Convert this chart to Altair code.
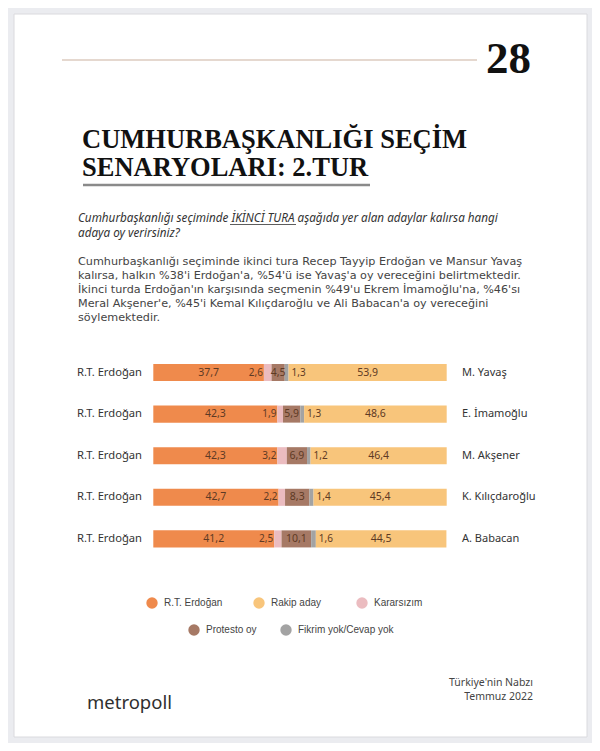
import altair as alt
import pandas as pd

# ---------------- data ----------------
rivals = ["M. Yavaş", "E. İmamoğlu", "M. Akşener", "K. Kılıçdaroğlu", "A. Babacan"]
categories = ["R.T. Erdoğan", "Kararsızım", "Protesto oy", "Fikrim yok/Cevap yok", "Rakip aday"]
erdogan = [37.7, 42.3, 42.3, 42.7, 41.2]
kararsiz = [2.6, 1.9, 3.2, 2.2, 2.5]
protesto = [4.5, 5.9, 6.9, 8.3, 10.1]
fikrim = [1.3, 1.3, 1.2, 1.4, 1.6]
rakip = [53.9, 48.6, 46.4, 45.4, 44.5]
colors = ["#ef8a4c", "#ebbcc0", "#a67965", "#a3a3a3", "#f8c57b"]
legend_order = ["R.T. Erdoğan", "Rakip aday", "Kararsızım", "Protesto oy", "Fikrim yok/Cevap yok"]
legend_labels = ["R.T. Erdoğan", "Rakip aday", "Kararsızım", "Protesto oy", "Fikrim yok/Cevap yok"]

rows = []
for i, r in enumerate(rivals):
    vals = [erdogan[i], kararsiz[i], protesto[i], fikrim[i], rakip[i]]
    s = 0.0
    for c, v in zip(categories, vals):
        rows.append(dict(rival=r, cat=c, value=v, start=s, end=s + v, mid=s + v / 2,
                         label=f"{v:.1f}".replace(".", ",")))
        s += v
df = pd.DataFrame(rows)
one = pd.DataFrame({"_": [0]})

SANS = "Noto Sans"
SERIF = "Liberation Serif"

xscale = alt.Scale(domain=[0, 100], range=[145.3, 438.7])
yscale = alt.Scale(domain=rivals, range=[343.7, 551.7], paddingInner=0.59, paddingOuter=0.295)
cscale = alt.Scale(domain=categories, range=colors)
Y = alt.Y("rival:N", scale=yscale, axis=None, sort=rivals)


def txt(s, x, y, size, font=SANS, align="left", color="#333333", **kw):
    return alt.Chart(one).mark_text(align=align, baseline="middle", fontSize=size, font=font,
                                    color=color, **kw).encode(
        x=alt.value(x), y=alt.value(y), text=alt.value(s))


def rule(x1, x2, y, color, w):
    return alt.Chart(one).mark_rule(color=color, strokeWidth=w).encode(
        x=alt.value(x1), x2=alt.value(x2), y=alt.value(y))


page = alt.Chart(one).mark_rect(color="white", stroke="#dadade", strokeWidth=1).encode(
    x=alt.value(6), x2=alt.value(579), y=alt.value(6), y2=alt.value(729))

layers = [page]
layers.append(rule(54, 469, 52, "#dccbbf", 1.5))
layers.append(alt.Chart(one).mark_text(align="left", baseline="alphabetic", fontSize=45, font=SERIF,
                                       fontWeight="bold", color="#111111").encode(
    x=alt.value(478), y=alt.value(65), text=alt.value("28")))
for s, y in [("CUMHURBAŞKANLIĞI SEÇİM", 140), ("SENARYOLARI: 2.TUR", 168)]:
    layers.append(alt.Chart(one).mark_text(align="left", baseline="alphabetic", fontSize=26.5, font=SERIF,
                                           fontWeight="bold", color="#111111").encode(
        x=alt.value(74), y=alt.value(y), text=alt.value(s)))
layers.append(rule(75, 362, 177, "#8a8a8a", 2.5))

# question
layers.append(alt.Chart(one).mark_text(align="left", baseline="middle", fontSize=11.7, font=SANS,
                                       fontStyle="italic", color="#333333", lineHeight=14.5).encode(
    x=alt.value(70), y=alt.value(210),
    text=alt.value(["Cumhurbaşkanlığı seçiminde İKİNCİ TURA aşağıda yer alan adaylar kalırsa hangi",
                    "adaya oy verirsiniz?"])))
layers.append(rule(222, 288, 216.5, "#333333", 0.8))

# paragraph
para = ["Cumhurbaşkanlığı seçiminde ikinci tura Recep Tayyip Erdoğan ve Mansur Yavaş",
        "kalırsa, halkın %38'i Erdoğan'a, %54'ü ise Yavaş'a oy vereceğini belirtmektedir.",
        "İkinci turda Erdoğan'ın karşısında seçmenin %49'u Ekrem İmamoğlu'na, %46'sı",
        "Meral Akşener'e, %45'i Kemal Kılıçdaroğlu ve Ali Babacan'a oy vereceğini",
        "söylemektedir."]
layers.append(alt.Chart(one).mark_text(align="left", baseline="middle", fontSize=11.2, font="DejaVu Sans",
                                       color="#444444", lineHeight=14).encode(
    x=alt.value(70), y=alt.value(254), text=alt.value(para)))

# bars
bars = alt.Chart(df).mark_bar().encode(
    x=alt.X("start:Q", scale=xscale, axis=None),
    x2="end:Q",
    y=Y,
    color=alt.Color("cat:N", scale=cscale, legend=None),
)
layers.append(bars)

lab_color = "#5e3a24"
center = alt.Chart(df).transform_filter(
    alt.FieldOneOfPredicate(field="cat", oneOf=["R.T. Erdoğan", "Protesto oy", "Rakip aday"])
).mark_text(fontSize=10.5, font=SANS, color=lab_color, baseline="middle").encode(
    x=alt.X("mid:Q", scale=xscale, axis=None), y=Y, text="label:N")
pink = alt.Chart(df).transform_filter(alt.datum.cat == "Kararsızım").mark_text(
    fontSize=10, font=SANS, color=lab_color, baseline="middle", align="right", dx=-1).encode(
    x=alt.X("start:Q", scale=xscale, axis=None), y=Y, text="label:N")
grey = alt.Chart(df).transform_filter(alt.datum.cat == "Fikrim yok/Cevap yok").mark_text(
    fontSize=10, font=SANS, color=lab_color, baseline="middle", align="left", dx=3).encode(
    x=alt.X("end:Q", scale=xscale, axis=None), y=Y, text="label:N")
layers += [center, pink, grey]

rowdf = df[df["cat"] == "R.T. Erdoğan"]
left_lab = alt.Chart(rowdf).mark_text(align="left", baseline="middle", fontSize=11.2, font=SANS,
                                      color="#333333").encode(
    x=alt.value(69), y=Y, text="cat:N")
right_lab = alt.Chart(rowdf).mark_text(align="left", baseline="middle", fontSize=11, font=SANS,
                                       color="#333333").encode(
    x=alt.value(454), y=Y, text="rival:N")
layers += [left_lab, right_lab]

# legend (drawn manually, two centered rows)
leg_pos = [(144, 595), (251, 595), (354, 595), (186, 622), (278, 622)]
for name, lab, (lx, ly) in zip(legend_order, legend_labels, leg_pos):
    col = colors[categories.index(name)]
    layers.append(alt.Chart(one).mark_point(shape="circle", filled=True, size=130, opacity=1,
                                            color=col).encode(x=alt.value(lx), y=alt.value(ly)))
    layers.append(txt(lab, lx + 12, ly, 10, font="Liberation Sans", color="#444444"))

# footer
layers.append(txt("metropoll", 79, 695, 18.5, font=SANS, color="#2f2f2f"))
layers.append(alt.Chart(one).mark_text(align="right", baseline="middle", fontSize=10.5, font=SANS,
                                       color="#444444", lineHeight=14).encode(
    x=alt.value(525), y=alt.value(675), text=alt.value(["Türkiye'nin Nabzı", "Temmuz 2022"])))

chart = alt.layer(*layers).properties(
    width=584, height=735, padding=0, autosize="none", background="#ebecf0"
).configure_view(stroke=None)

chart.save("out.html", embed_options={"renderer": "svg", "actions": False})
